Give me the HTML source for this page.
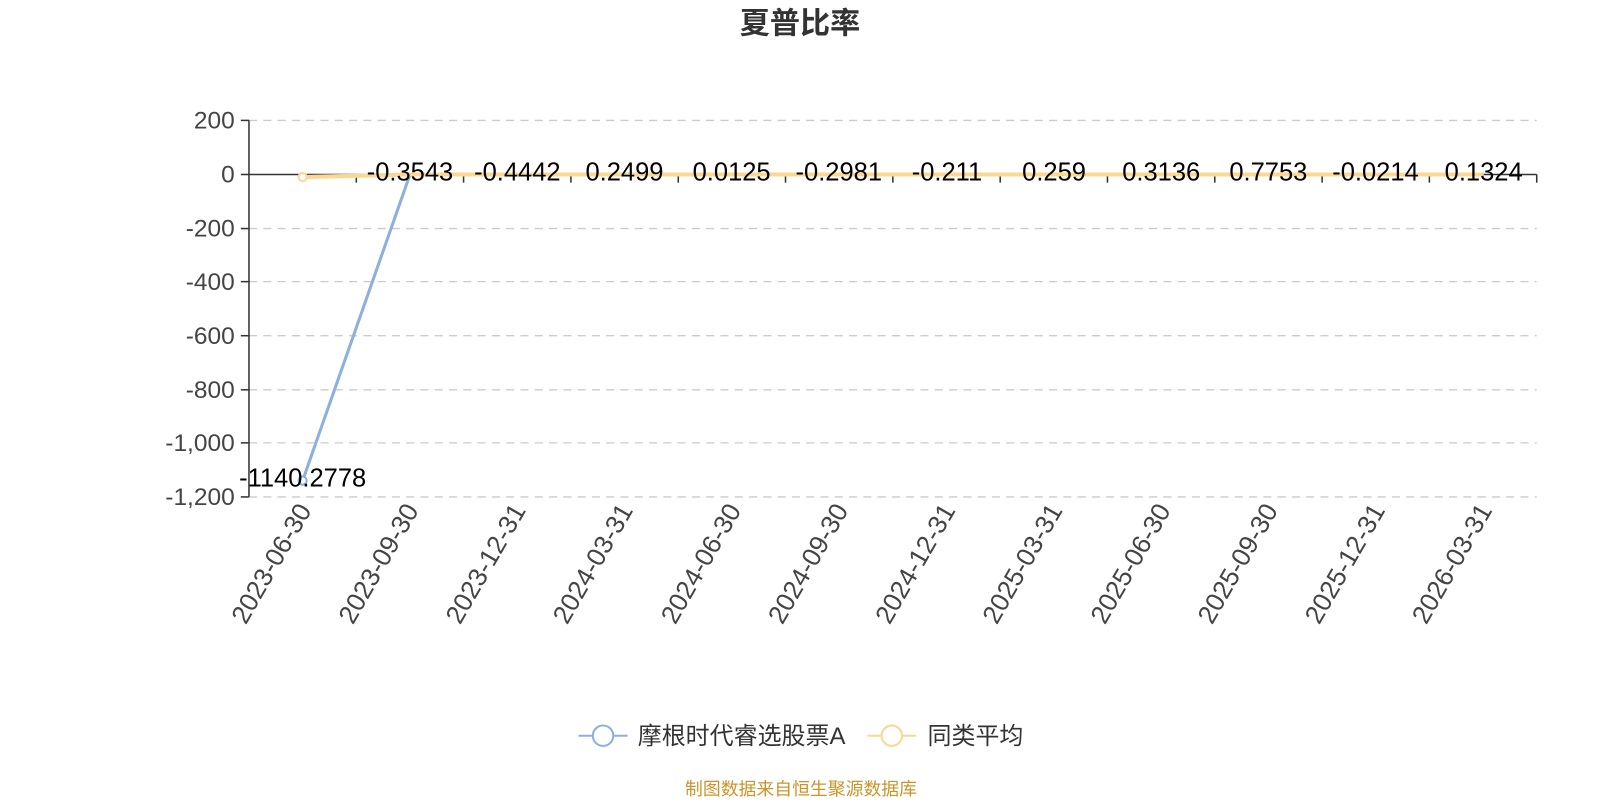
<!DOCTYPE html>
<html><head><meta charset="utf-8"><style>
body{margin:0;background:#fff;}
svg text{font-family:"Liberation Sans","Noto Sans CJK SC",sans-serif;}
</style></head><body>
<svg width="1600" height="800" viewBox="0 0 1600 800">
<g transform="scale(1.0204)">
<text x="784" y="33" text-anchor="middle" font-size="29.5" font-weight="bold" fill="#333">夏普比率</text>
<g stroke="#ccc" stroke-dasharray="8,6" stroke-width="1.3">
<line x1="244" y1="118" x2="1506" y2="118"/>
<line x1="244" y1="224" x2="1506" y2="224"/>
<line x1="244" y1="276" x2="1506" y2="276"/>
<line x1="244" y1="329" x2="1506" y2="329"/>
<line x1="244" y1="382" x2="1506" y2="382"/>
<line x1="244" y1="434" x2="1506" y2="434"/>
<line x1="244" y1="487" x2="1506" y2="487"/>
</g>
<g stroke="#333" stroke-width="1.5">
<line x1="244" y1="118" x2="244" y2="487"/>
<line x1="236" y1="118" x2="244" y2="118"/>
<line x1="236" y1="171" x2="244" y2="171"/>
<line x1="236" y1="224" x2="244" y2="224"/>
<line x1="236" y1="276" x2="244" y2="276"/>
<line x1="236" y1="329" x2="244" y2="329"/>
<line x1="236" y1="382" x2="244" y2="382"/>
<line x1="236" y1="434" x2="244" y2="434"/>
<line x1="236" y1="487" x2="244" y2="487"/>
<line x1="244" y1="171" x2="1506" y2="171"/>
<line x1="349.2" y1="171" x2="349.2" y2="179"/><line x1="454.3" y1="171" x2="454.3" y2="179"/>
<line x1="559.5" y1="171" x2="559.5" y2="179"/><line x1="664.7" y1="171" x2="664.7" y2="179"/>
<line x1="769.8" y1="171" x2="769.8" y2="179"/><line x1="875" y1="171" x2="875" y2="179"/>
<line x1="980.2" y1="171" x2="980.2" y2="179"/><line x1="1085.3" y1="171" x2="1085.3" y2="179"/>
<line x1="1190.5" y1="171" x2="1190.5" y2="179"/><line x1="1295.7" y1="171" x2="1295.7" y2="179"/>
<line x1="1400.8" y1="171" x2="1400.8" y2="179"/><line x1="1506" y1="171" x2="1506" y2="179"/>
</g>
<g font-size="24" fill="#444" text-anchor="end">
<text x="230" y="126">200</text><text x="230" y="179">0</text><text x="230" y="232">-200</text>
<text x="230" y="284">-400</text><text x="230" y="337">-600</text><text x="230" y="390">-800</text>
<text x="230" y="442">-1,000</text><text x="230" y="495">-1,200</text>
</g>
<polyline fill="none" stroke="#8eb0dc" stroke-width="3" points="296.6,471 401.8,171 507,171 612,171 717,171 822,171 928,171 1033,171 1138,171 1243,171 1348,171 1454,171"/>
<polyline fill="none" stroke="#fbd892" stroke-width="4" points="296.6,173.5 401.8,171 507,171 612,171 717,171 822,171 928,171 1033,171 1138,171 1243,171 1348,171 1454,171"/>
<circle cx="296.6" cy="173.5" r="4" fill="#fff" stroke="#fbd892" stroke-width="2"/>
<circle cx="296.6" cy="471" r="4" fill="#fff" stroke="#8eb0dc" stroke-width="2"/>
<g font-size="25" fill="#000" text-anchor="middle">
<text x="296.6" y="477">-1140.2778</text>
<text x="401.8" y="177">-0.3543</text><text x="507" y="177">-0.4442</text><text x="612" y="177">0.2499</text>
<text x="717" y="177">0.0125</text><text x="822" y="177">-0.2981</text><text x="928" y="177">-0.211</text>
<text x="1033" y="177">0.259</text><text x="1138" y="177">0.3136</text><text x="1243" y="177">0.7753</text>
<text x="1348" y="177">-0.0214</text><text x="1454" y="177">0.1324</text>
</g>
<g font-size="25.5" fill="#444" text-anchor="end">
<text transform="translate(306,500) rotate(-60)">2023-06-30</text>
<text transform="translate(411,500) rotate(-60)">2023-09-30</text>
<text transform="translate(516,500) rotate(-60)">2023-12-31</text>
<text transform="translate(621,500) rotate(-60)">2024-03-31</text>
<text transform="translate(727,500) rotate(-60)">2024-06-30</text>
<text transform="translate(832,500) rotate(-60)">2024-09-30</text>
<text transform="translate(937,500) rotate(-60)">2024-12-31</text>
<text transform="translate(1042,500) rotate(-60)">2025-03-31</text>
<text transform="translate(1148,500) rotate(-60)">2025-06-30</text>
<text transform="translate(1253,500) rotate(-60)">2025-09-30</text>
<text transform="translate(1358,500) rotate(-60)">2025-12-31</text>
<text transform="translate(1463,500) rotate(-60)">2026-03-31</text>
</g>
<line x1="567" y1="721" x2="615" y2="721" stroke="#8eb0dc" stroke-width="2"/>
<circle cx="591" cy="721" r="10" fill="#fff" stroke="#8eb0dc" stroke-width="2"/>
<text x="625" y="729" font-size="23.5" fill="#333">摩根时代睿选股票A</text>
<line x1="850" y1="721" x2="898" y2="721" stroke="#fbd892" stroke-width="2"/>
<circle cx="874" cy="721" r="10" fill="#fff" stroke="#fbd892" stroke-width="2"/>
<text x="909" y="729" font-size="23.5" fill="#333">同类平均</text>
<text x="785" y="779" font-size="17.5" fill="#c9952a" text-anchor="middle">制图数据来自恒生聚源数据库</text>
</g>
</svg>
</body></html>
